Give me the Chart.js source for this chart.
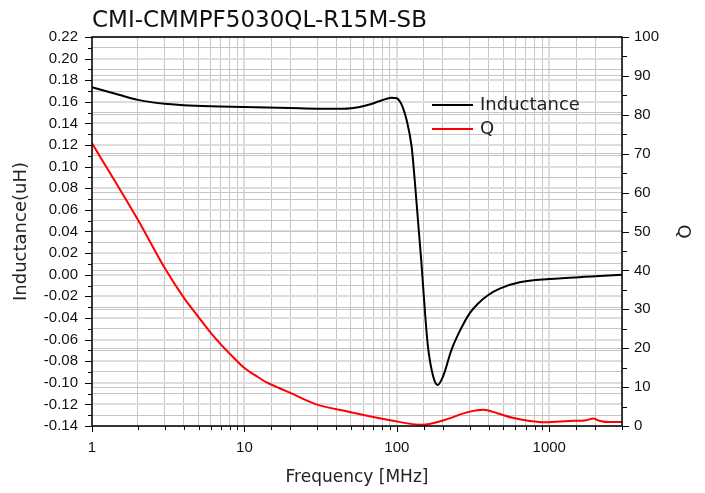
<!DOCTYPE html>
<html>
<head>
<meta charset="utf-8">
<script src="https://cdn.jsdelivr.net/npm/chart.js@4.4.0/dist/chart.umd.min.js"></script>
<style>
body { margin: 0; background: #fff; }
</style>
</head>
<body>
<canvas id="myChart" width="705" height="493"></canvas>
<script>
// datos
const freqL = [1, 1.5, 2, 2.5, 3, 4, 6, 10, 20, 30, 45, 57, 68, 80, 92, 100, 105, 110, 116, 125, 131, 138, 145, 153, 160, 173, 185, 201, 228, 259, 301, 340, 400, 473, 640, 1000, 2000, 3000]
const inductance = [0.1735, 0.1665, 0.1618, 0.1595, 0.1582, 0.1568, 0.1558, 0.1552, 0.1543, 0.1537, 0.1537, 0.1553, 0.158, 0.1615, 0.1638, 0.1633, 0.160, 0.154, 0.143, 0.1185, 0.0876, 0.048, 0.0107, -0.035, -0.0666, -0.094, -0.102, -0.094, -0.0697, -0.052, -0.0355, -0.0268, -0.0185, -0.0128, -0.007, -0.004, -0.0015, 0.0]

const freqQ = [1, 2, 3, 4, 5, 6, 7, 8, 10, 12, 14, 17, 20, 29, 49, 90, 148, 200, 300, 370, 455, 575, 745, 950, 1350, 1750, 1940, 2150, 2500, 3000]
const qValues = [72.7, 53, 40.6, 33, 28, 24, 21, 18.6, 14.9, 12.8, 11.2, 9.7, 8.5, 5.7, 3.6, 1.5, 0.3, 1.4, 3.7, 4.2, 3.3, 2.1, 1.3, 0.95, 1.3, 1.5, 1.9, 1.3, 1.0, 1.0]

const freqMin = 1
const freqMax = 3000
const lMin = -0.14
const lMax = 0.22
const qMin = 0
const qMax = 100

const esDecada = v => Math.abs(Math.log10(v) - Math.round(Math.log10(v))) < 1e-9
const esMayorL = v => Math.abs(Math.round(v * 100)) % 2 === 0
const esMayorQ = v => Math.round(v) % 10 === 0

const fuenteTexto = 'DejaVu Sans'
const fuenteTicks = 'Liberation Sans'

// ticks y marco
const ejes = {
    id: 'ejes',
    afterDraw(chart) {
        const {ctx, chartArea: a, scales} = chart
        ctx.save()
        ctx.strokeStyle = '#000'
        ctx.lineWidth = 1
        ctx.beginPath()
        scales.x.ticks.forEach(t => {
            const px = Math.round(scales.x.getPixelForValue(t.value)) + 0.5
            const len = esDecada(t.value) ? 6 : 4
            ctx.moveTo(px, a.bottom)
            ctx.lineTo(px, a.bottom + len)
        })
        scales.y.ticks.forEach(t => {
            const py = Math.round(scales.y.getPixelForValue(t.value)) + 0.5
            const len = esMayorL(t.value) ? 7 : 4
            ctx.moveTo(a.left, py)
            ctx.lineTo(a.left - len, py)
        })
        scales.y1.ticks.forEach(t => {
            const py = Math.round(scales.y1.getPixelForValue(t.value)) + 0.5
            const len = esMayorQ(t.value) ? 7 : 5
            ctx.moveTo(a.right, py)
            ctx.lineTo(a.right + len, py)
        })
        ctx.stroke()
        ctx.lineWidth = 1.5
        ctx.strokeRect(a.left, a.top, a.right - a.left, a.bottom - a.top)
        ctx.restore()
    }
}

// leyenda dentro del area
const leyenda = {
    id: 'leyenda',
    afterDraw(chart) {
        const {ctx, chartArea: a} = chart
        ctx.save()
        ctx.font = '18px "' + fuenteTexto + '"'
        ctx.textBaseline = 'middle'
        chart.data.datasets.forEach((ds, i) => {
            const y = a.top + 68 + i * 24
            const x = a.left + 340
            ctx.strokeStyle = ds.borderColor
            ctx.lineWidth = 2
            ctx.beginPath()
            ctx.moveTo(x, y)
            ctx.lineTo(x + 41, y)
            ctx.stroke()
            ctx.fillStyle = '#222'
            ctx.fillText(ds.label, x + 48, y)
        })
        ctx.restore()
    }
}

const ctx1 = document.getElementById('myChart')

const myChart = new Chart(ctx1, {
    type: 'line',
    data: {
        datasets: [{
            label: 'Inductance',
            data: freqL.map((f, i) => ({x: f, y: inductance[i]})),
            borderColor: '#000000',
            backgroundColor: '#000000',
            borderWidth: 2,
            pointRadius: 0,
            cubicInterpolationMode: 'monotone',
            yAxisID: 'y'
        }, {
            label: 'Q',
            data: freqQ.map((f, i) => ({x: f, y: qValues[i]})),
            borderColor: '#ff0000',
            backgroundColor: '#ff0000',
            borderWidth: 2,
            pointRadius: 0,
            cubicInterpolationMode: 'monotone',
            yAxisID: 'y1'
        }]
    },
    options: {
        responsive: false,
        animation: false,
        layout: { padding: 0 },
        plugins: {
            legend: { display: false },
            tooltip: { enabled: false },
            title: {
                display: true,
                text: 'CMI-CMMPF5030QL-R15M-SB',
                align: 'start',
                fullSize: false,
                color: '#111',
                font: { family: fuenteTexto, size: 23, weight: 'normal' },
                padding: { top: 7, bottom: 2.4 }
            }
        },
        scales: {
            x: {
                type: 'logarithmic',
                position: 'bottom',
                min: freqMin,
                max: freqMax,
                afterFit: s => { s.height = 67 },
                border: { display: false },
                grid: {
                    drawTicks: false,
                    color: c => esDecada(c.tick.value) ? '#dddddd' : '#c6c6c6',
                    lineWidth: c => esDecada(c.tick.value) ? 2 : 1
                },
                ticks: {
                    autoSkip: false,
                    maxRotation: 0,
                    padding: 13,
                    color: '#111',
                    font: { family: fuenteTicks, size: 15 },
                    callback: v => esDecada(v) ? String(v) : ''
                },
                title: {
                    display: true,
                    text: 'Frequency [MHz]',
                    color: '#222',
                    font: { family: fuenteTexto, size: 17 },
                    padding: { top: 0, bottom: 5 }
                }
            },
            y: {
                position: 'left',
                min: lMin,
                max: lMax,
                afterFit: s => { s.width = 92 },
                border: { display: false },
                grid: {
                    drawTicks: false,
                    color: c => esMayorL(c.tick.value) ? '#dddddd' : '#c6c6c6',
                    lineWidth: c => esMayorL(c.tick.value) ? 2 : 1
                },
                ticks: {
                    stepSize: 0.01,
                    maxTicksLimit: 100,
                    autoSkip: false,
                    padding: 14,
                    color: '#111',
                    font: { family: fuenteTicks, size: 15 },
                    callback: v => esMayorL(v) ? (Math.round(v * 100) / 100).toFixed(2) : ''
                },
                title: {
                    display: true,
                    text: 'Inductance(uH)',
                    color: '#222',
                    font: { family: fuenteTexto, size: 18 },
                    padding: { top: 11, bottom: 0 }
                }
            },
            y1: {
                position: 'right',
                min: qMin,
                max: qMax,
                afterFit: s => { s.width = 83 },
                border: { display: false },
                grid: {
                    drawTicks: false,
                    color: c => esMayorQ(c.tick.value) ? '#c6c6c6' : 'rgba(0,0,0,0)',
                    lineWidth: 1
                },
                ticks: {
                    stepSize: 5,
                    maxTicksLimit: 100,
                    autoSkip: false,
                    padding: 12,
                    color: '#111',
                    font: { family: fuenteTicks, size: 15 },
                    callback: v => esMayorQ(v) ? String(v) : ''
                },
                title: {
                    display: true,
                    text: 'Q',
                    color: '#222',
                    font: { family: fuenteTexto, size: 18 },
                    padding: { top: 12, bottom: 0 }
                }
            }
        }
    },
    plugins: [ejes, leyenda]
})
</script>
</body>
</html>
